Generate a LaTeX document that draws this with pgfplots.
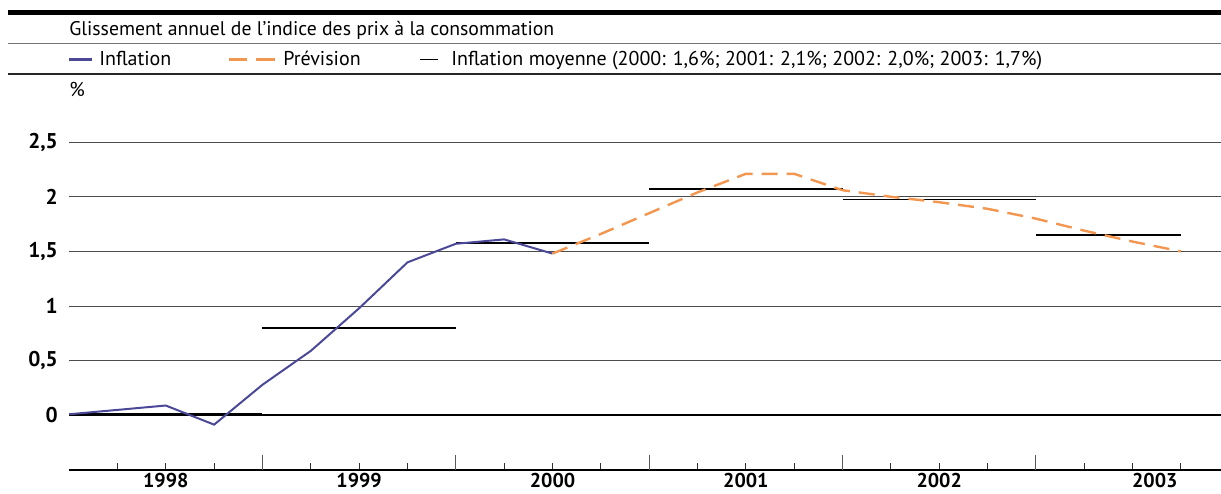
\documentclass[border=0pt]{standalone}
\usepackage{fontspec}
\setmainfont{PT Sans}
\usepackage{pgfplots}
\pgfplotsset{compat=1.18}
\definecolor{infl}{RGB}{75,72,152}
\definecolor{prev}{RGB}{242,150,80}
\begin{document}
\begin{tikzpicture}
\useasboundingbox (0pt,0pt) rectangle (915.75pt,-369.75pt);
\begin{scope}[x=0.75pt,y=-0.75pt]
\fill[black] (7.5,9.5) rectangle (1221,15);
\draw[black!55, line width=1.1pt] (7.5,43.5) -- (1221,43.5);
\draw[black!85, line width=0.9pt] (7.5,74) -- (1221,74);
\node[anchor=base west, inner sep=0pt, font=\fontsize{14.8}{18}\selectfont] at (69,35) {Glissement annuel de l’indice des prix à la consommation};
\draw[infl, line width=1.6pt] (69,59.5) -- (92,59.5);
\node[anchor=base west, inner sep=0pt, font=\fontsize{15}{18}\selectfont] at (99,65.5) {Inflation};
\draw[prev, line width=1.6pt] (229,59.5) -- (247,59.5);
\draw[prev, line width=1.6pt] (256,59.5) -- (275,59.5);
\node[anchor=base west, inner sep=0pt, font=\fontsize{15}{18}\selectfont] at (283,65.5) {Prévision};
\draw[black, line width=1.4pt] (420,59.5) -- (438,59.5);
\node[anchor=base west, inner sep=0pt, font=\fontsize{15}{18}\selectfont] at (451,65.5) {Inflation moyenne (2000: 1,6\%; 2001: 2,1\%; 2002: 2,0\%; 2003: 1,7\%)};
\node[anchor=base west, inner sep=0pt, font=\fontsize{15}{18}\selectfont] at (69,96) {\%};
\end{scope}
\begin{axis}[
  at={(51.83pt,-352.5pt)}, anchor=south west,
  width=870.1pt, height=286.9pt, scale only axis,
  xmin=0, xmax=24, ymin=-0.5, ymax=3,
  axis x line*=bottom, axis y line*=left,
  y axis line style={draw=none},
  x axis line style={black, line width=1.1pt, -},
  ytick={0,0.5,1,1.5,2,2.5},
  yticklabels={0,{0,5},1,{1,5},2,{2,5}},
  ymajorgrids,
  grid style={black!70, line width=0.8pt},
  ytick style={draw=none},
  yticklabel style={font=\bfseries\fontsize{16}{18}\selectfont, anchor=east, inner sep=0pt, xshift=-8.25pt},
  xtick={2,6,10,14,18,22.46},
  xticklabels={1998,1999,2000,2001,2002,2003},
  xtick align=inside,
  major tick length=0pt,
  minor tick length=5.25pt,
  minor xtick={1,2,3,5,6,7,9,10,11,13,14,15,17,18,19,21,22,23},
  minor x tick style={black!80, line width=0.75pt},
  extra x ticks={4,8,12,16,20},
  extra x tick labels={},
  extra x tick style={major tick length=11.25pt, tick style={black!65, line width=0.9pt}},
  xticklabel style={font=\bfseries\fontsize{15}{17}\selectfont, anchor=north, inner sep=0pt, yshift=-2pt},
  clip=false,
]
\addplot[black, line width=1.5pt, forget plot] coordinates {(0,0) (24,0)};
\addplot[black, line width=1.6pt] coordinates {(0,0.01) (4,0.01)};
\addplot[black, line width=1.4pt] coordinates {(4,0.80) (8,0.80)};
\addplot[black, line width=1.4pt] coordinates {(8,1.575) (12,1.575)};
\addplot[black, line width=1.4pt] coordinates {(12,2.075) (16,2.075)};
\addplot[black, line width=1.4pt] coordinates {(16,1.975) (20,1.975)};
\addplot[black, line width=1.4pt] coordinates {(20,1.65) (23,1.65)};
\addplot[infl, line width=1.5pt] coordinates {(0,0.01) (1,0.05) (2,0.09) (3,-0.085) (4,0.28) (5,0.59) (6,0.98) (7,1.40) (8,1.57) (9,1.61) (10,1.48)};
\addplot[prev, line width=1.8pt, dash pattern=on 12pt off 6.75pt] coordinates {(10,1.48) (11,1.66) (12,1.85) (13,2.04) (14,2.21) (15,2.21) (16,2.06) (17,2.00) (18,1.95) (19,1.89) (20,1.80) (21,1.69) (22,1.59) (23,1.50)};
\end{axis}
\end{tikzpicture}
\end{document}
